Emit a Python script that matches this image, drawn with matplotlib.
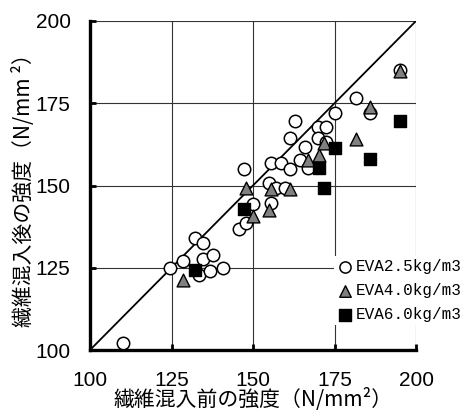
import matplotlib
matplotlib.use("Agg")
import matplotlib.pyplot as plt

# EVA 2.5 kg/m3 (circles)
eva25_x = [110, 124.5, 128.6, 132.1, 134.7, 134.7, 137.8, 133.5, 136.7, 140.8,
           145.7, 147.7, 150.0, 147.2, 154.9, 155.4, 155.4, 157.1, 158.7, 159.7,
           161.5, 161.5, 162.8, 165.8, 164.3, 166.8, 169.9, 172.4, 169.9, 172.4,
           175.0, 181.6, 186.0, 195.1]
eva25_y = [102.0, 125.0, 127.1, 133.9, 132.4, 127.8, 128.8, 122.8, 124.1, 124.8,
           136.7, 138.7, 144.3, 155.0, 150.9, 156.9, 144.8, 149.1, 156.7, 149.1,
           155.0, 164.3, 169.6, 161.7, 157.9, 155.2, 167.8, 167.8, 164.3, 163.3,
           171.9, 176.7, 172.1, 185.0]

# EVA 4.0 kg/m3 (triangles)
eva40_x = [128.6, 147.7, 150.0, 154.9, 155.4, 161.5, 166.8, 170.2, 171.9, 181.6, 186.0, 195.1]
eva40_y = [121.3, 149.3, 140.7, 142.5, 148.9, 148.9, 157.9, 159.2, 162.9, 164.0, 173.9, 184.7]

# EVA 6.0 kg/m3 (squares)
eva60_x = [132.1, 147.2, 170.2, 171.9, 175.0, 186.0, 195.1]
eva60_y = [124.3, 143.0, 155.2, 149.1, 161.4, 158.0, 169.6]

labels = ["EVA2.5kg/m3", "EVA4.0kg/m3", "EVA6.0kg/m3"]
ticks = [100, 125, 150, 175, 200]

jp = ["Noto Sans CJK JP", "DejaVu Sans"]

fig = plt.figure(figsize=(4.69, 4.17), dpi=100)
ax = fig.add_axes([90 / 469, 1 - 350 / 417, 326 / 469, 329 / 417])

ax.set_xlim(100, 200)
ax.set_ylim(100, 200)
ax.set_xticks(ticks)
ax.set_yticks(ticks)
ax.grid(True, color="#333333", linewidth=0.8, zorder=0)
ax.set_axisbelow(True)

# 1:1 line
ax.plot([100, 200], [100, 200], color="black", linewidth=1.3, zorder=1)

ax.scatter(eva25_x, eva25_y, s=80, marker="o", facecolor="white",
           edgecolor="black", linewidth=1.1, zorder=3, label=labels[0])
ax.scatter(eva40_x, eva40_y, s=85, marker="^", facecolor="#808080",
           edgecolor="black", linewidth=1.0, zorder=4, label=labels[1])
ax.scatter(eva60_x, eva60_y, s=85, marker="s", facecolor="black",
           edgecolor="black", linewidth=1.0, zorder=5, label=labels[2])

for side in ["left", "bottom"]:
    ax.spines[side].set_linewidth(2.4)
for side in ["top", "right"]:
    ax.spines[side].set_visible(False)

ax.tick_params(direction="in", length=4, width=2, pad=14,
               labelsize=15, labelfontfamily="Liberation Sans")
ax.tick_params(axis="x", pad=15)

ax.set_xlabel("繊維混入前の強度（N/mm²）", family=jp, fontsize=15, labelpad=-1)
ax.set_ylabel("繊維混入後の強度（N/mm ²）", family=jp, fontsize=15, labelpad=0)

leg = ax.legend(loc="upper left", bbox_to_anchor=(334 / 469, 1 - 256 / 417),
                bbox_transform=fig.transFigure, frameon=True, fancybox=False,
                framealpha=1, facecolor="white", edgecolor="none",
                handletextpad=0.15, labelspacing=0.55, borderpad=0.2,
                borderaxespad=0, handlelength=1.0, markerscale=0.9,
                prop={"family": "Liberation Mono", "size": 11.5})
leg.set_zorder(10)

fig.savefig("out.png", dpi=100)
